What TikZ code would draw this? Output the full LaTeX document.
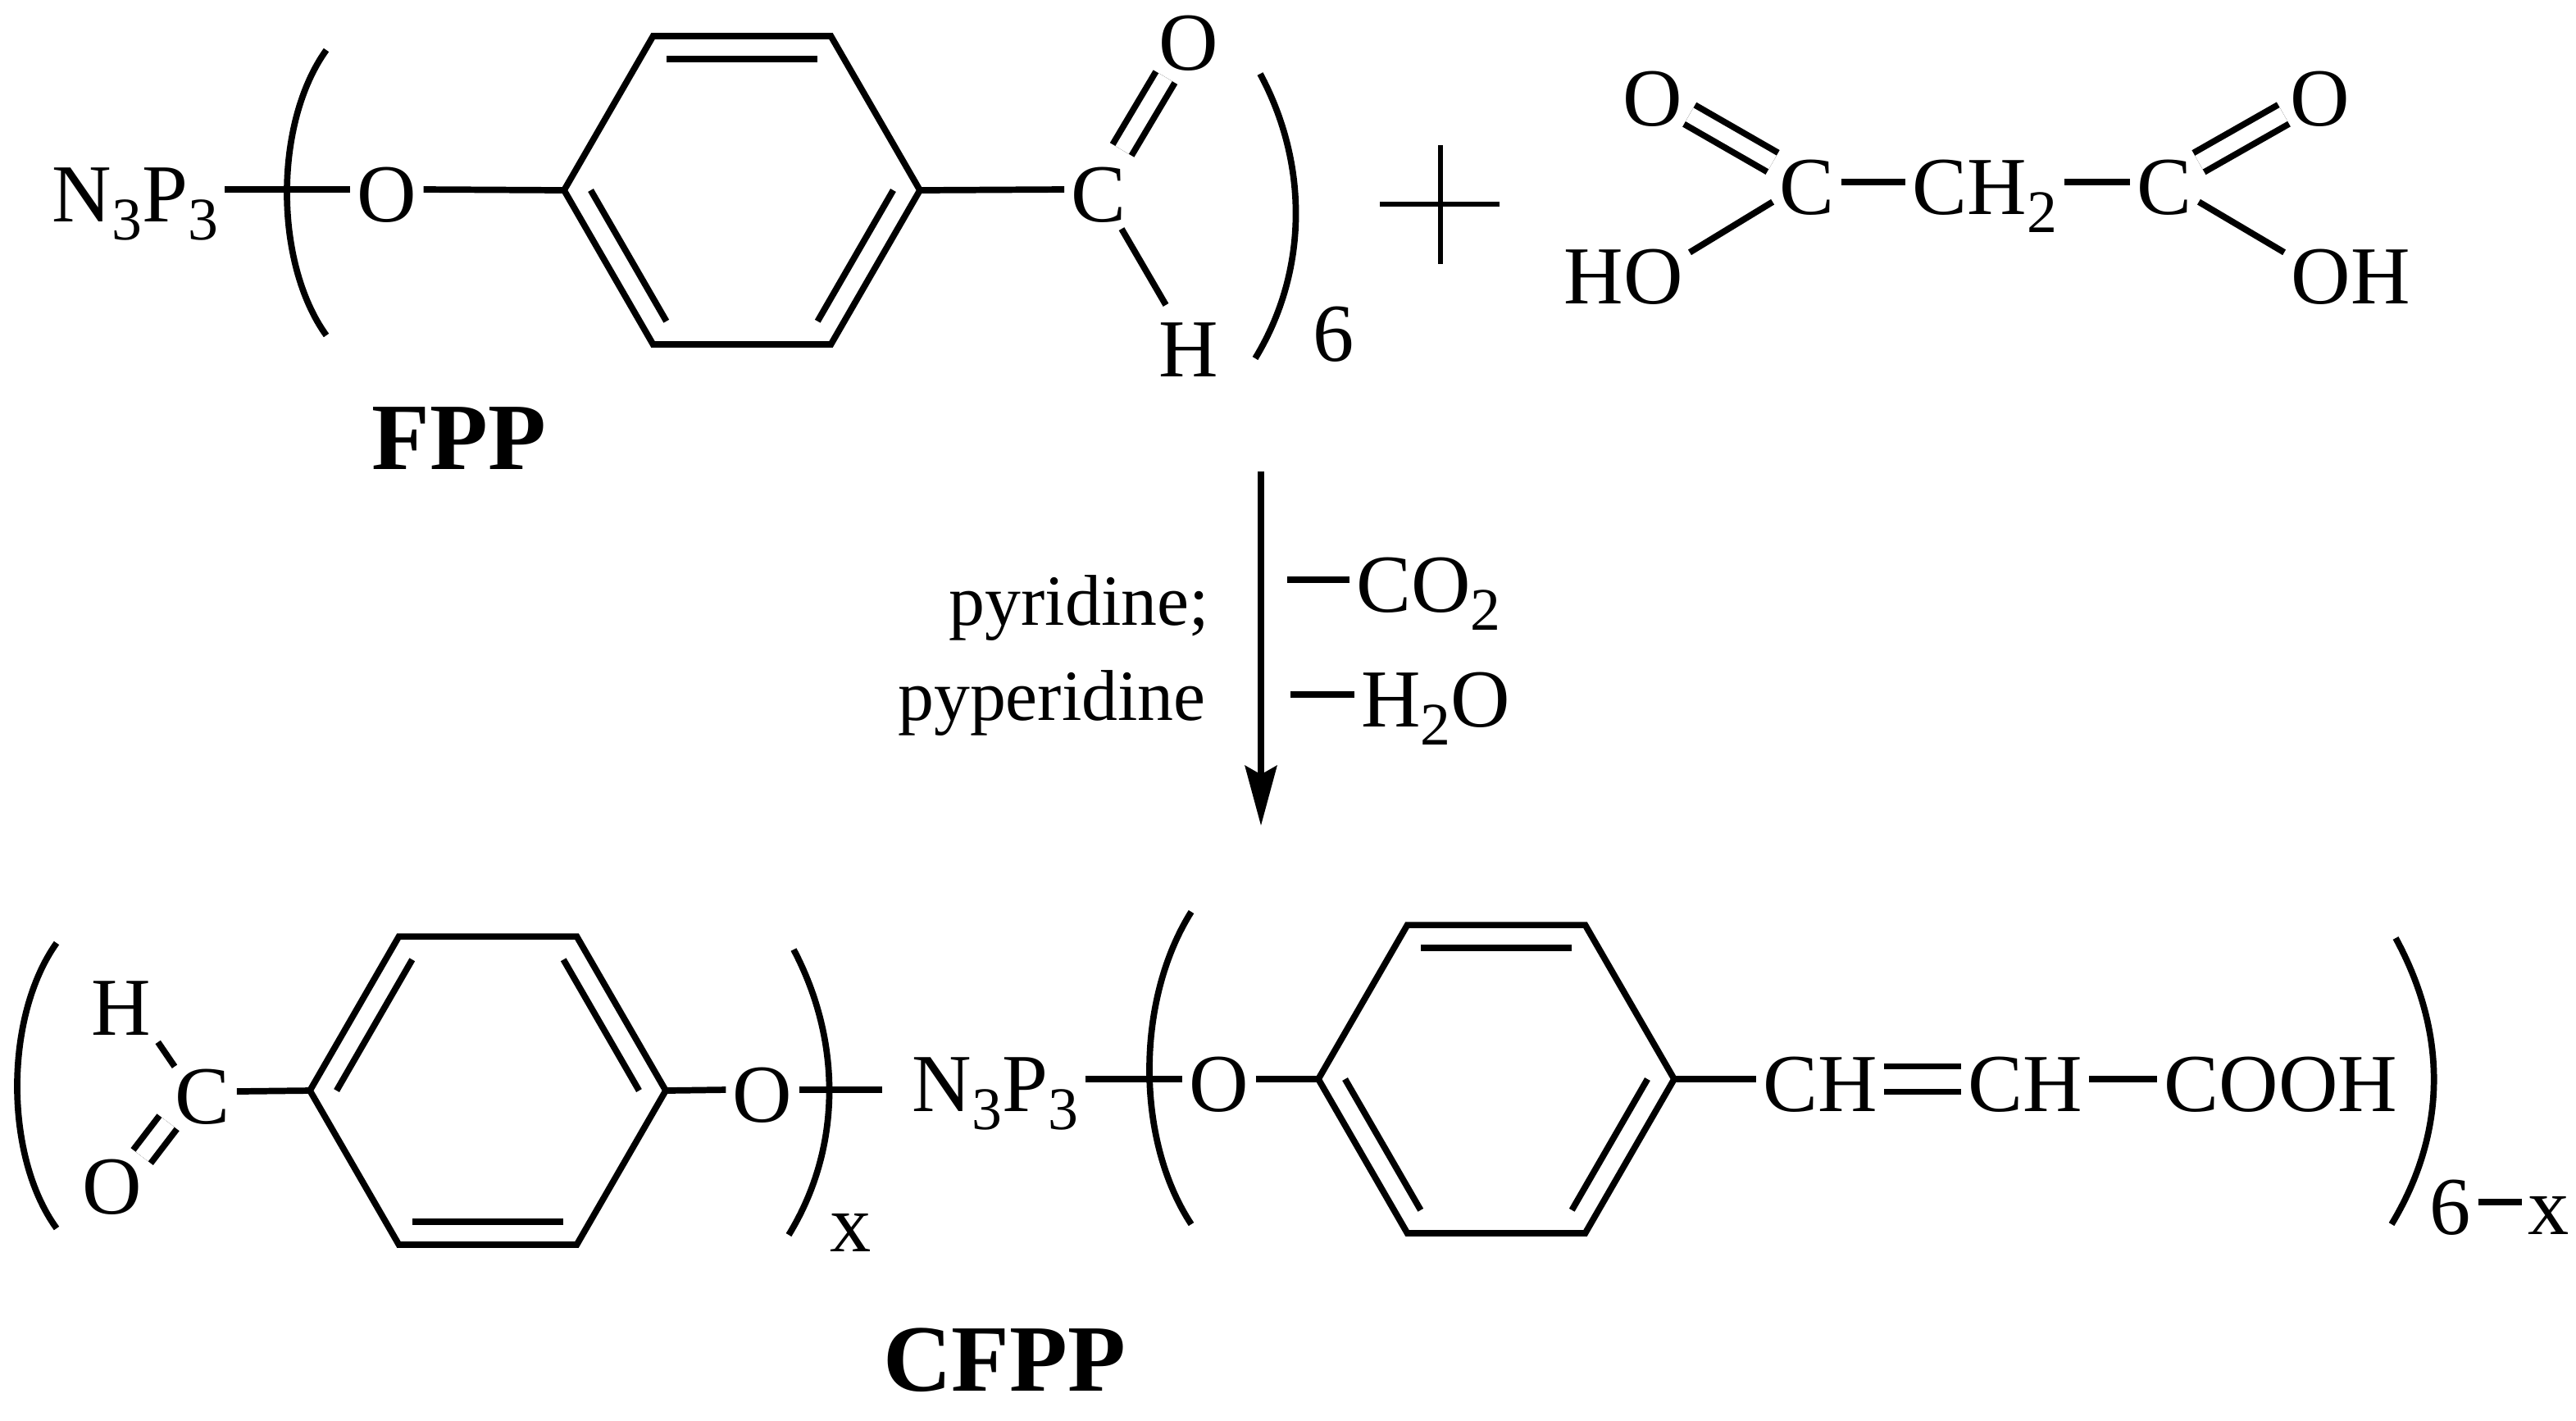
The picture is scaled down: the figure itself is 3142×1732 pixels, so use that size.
\documentclass[tikz,border=0pt]{standalone}
\usepackage{fontspec}
\setmainfont{Liberation Serif}
\usetikzlibrary{calc,arrows.meta}
\newcommand{\chemsub}[1]{\raisebox{-3.1pt}{\fontsize{10.5}{10.5}\selectfont #1}}
\newcommand{\benzring}[4]{%
  \coordinate (#1) at (#2,#3);
  \foreach \a [count=\i] in {0,60,...,300} {
    \coordinate (#1-\i) at ($(#1)+(\a:217)$);
    \coordinate (#1-in\i) at ($(#1)!.85!(#1-\i)$);
  }
  \draw[bond] (#1-1) -- (#1-2) -- (#1-3) -- (#1-4) -- (#1-5) -- (#1-6) -- cycle;
  \foreach \i/\j in {#4} {
    \draw[bond] (#1-in\i) -- (#1-in\j);
  }
}
\tikzset{
  bond/.style={line width=1.1pt, line join=miter},
  dbond/.style={line width=1.1pt, double, double distance=2.7pt},
  atom/.style={font=\fontsize{14.3}{14.3}\selectfont, inner sep=1pt, text height=11.3pt, text depth=0pt},
  label/.style={font=\fontsize{12.5}{12.5}\selectfont, inner sep=0pt},
  title/.style={font=\fontsize{16.5}{16.5}\selectfont\bfseries, inner sep=0pt}
}
\begin{document}
\begin{tikzpicture}[x=.005cm, y=-.005cm]
  \useasboundingbox (0,0) rectangle (3142,1732);

  % FPP
  \benzring{ringa}{905}{232}{5/6,3/4,1/2}
  \node[atom] (na) at (165,231) {N\chemsub{3}P\chemsub{3}};
  \node[atom] (oa) at (472,231) {O};
  \node[atom] (ca) at (1340,231) {C};
  \node[atom] (oatop) at (1450,46) {O};
  \node[atom] (ha) at (1450,420) {H};
  \draw[bond] (na.east) -- (oa.west);
  \draw[bond] (oa.east) -- (ringa-4);
  \draw[bond] (ringa-1) -- (ca.west);
  \draw[dbond] (ca) -- (oatop);
  \draw[bond] (ca) -- (ha);
  \draw[bond] (398,61) .. controls (334,150) and (334,320) .. (398,409);
  \draw[bond] (1537,90) .. controls (1596,200) and (1596,330) .. (1531,437);
  \node[atom] (six) at (1627,401) {6};
  \node[title] (fpp) at (560,535) {FPP};

  % plus
  \coordinate (plusl) at (1683,249);
  \coordinate (plusr) at (1829,249);
  \coordinate (plust) at (1757,177);
  \coordinate (plusb) at (1757,322);
  \draw[bond, line width=.95pt] (plusl) -- (plusr);
  \draw[bond, line width=.95pt] (plust) -- (plusb);

  % malonic acid
  \node[atom] (cb) at (2204,222) {C};
  \node[atom] (chb) at (2421,222) {CH\chemsub{2}};
  \node[atom] (cc) at (2640,222) {C};
  \node[atom] (ob) at (2016,114) {O};
  \node[atom] (oc) at (2830,114) {O};
  \node[atom] (hob) at (1980,331) {HO};
  \node[atom] (ohc) at (2867,331) {OH};
  \draw[bond] (cb) -- (chb);
  \draw[bond] (chb) -- (cc);
  \draw[dbond] (cb) -- (ob);
  \draw[dbond] (cc) -- (oc);
  \draw[bond] (cb.210) -- (hob.16);
  \draw[bond] (cc.-30) -- (ohc.164);

  % reaction arrow
  \coordinate (arrt) at (1538,575);
  \coordinate (arrb) at (1538,1007);
  \draw[bond, -{Stealth[length=10.4pt, width=5.5pt, inset=1.5pt]}] (arrt) -- (arrb);
  \node[label, anchor=base east] (pyr) at (1476,762) {pyridine;};
  \node[label, anchor=base east] (pyp) at (1472,878) {pyperidine};
  \node[atom, anchor=west] (co) at (1646,707) {CO\chemsub{2}};
  \node[atom, anchor=west] (hho) at (1652,847) {H\chemsub{2}O};
  \coordinate (coend) at (1570,707);
  \coordinate (hoend) at (1574,847);
  \draw[bond] (coend) -- (co.west);
  \draw[bond] (hoend) -- (hho.west);

  % CFPP
  \benzring{ringb}{595}{1330}{2/3,4/5,6/1}
  \benzring{ringc}{1825}{1316}{5/6,3/4,1/2}
  \node[atom] (hd) at (148,1223) {H};
  \node[atom] (cd) at (247,1331) {C};
  \node[atom] (od) at (137,1441) {O};
  \node[atom] (oe) at (930,1329) {O};
  \node[atom] (ne) at (1214,1316) {N\chemsub{3}P\chemsub{3}};
  \node[atom] (of) at (1487,1316) {O};
  \node[atom] (cha) at (2220,1316) {CH};
  \node[atom] (chc) at (2470,1316) {CH};
  \node[atom] (cooh) at (2782,1316) {COOH};
  \draw[bond, shorten >=-2pt] (hd.-47) -- (cd.135);
  \draw[dbond, shorten >=-2pt] (cd.222) -- (od.43);
  \draw[bond] (cd.east) -- (ringb-4);
  \draw[bond] (ringb-1) -- (oe.west);
  \draw[bond, shorten >=4pt] (oe.east) -- (ne.west |- oe);
  \draw[bond] (ne.east) -- (of.west);
  \draw[bond] (of.east) -- (ringc-4);
  \draw[bond] (ringc-1) -- (cha.west);
  \draw[dbond, double distance=3.3pt] (cha.east) -- (chc.west);
  \draw[bond] (chc.east) -- (cooh.west);
  \draw[bond] (69,1150) .. controls (5,1240) and (5,1410) .. (69,1498);
  \draw[bond] (968,1158) .. controls (1027,1270) and (1027,1400) .. (962,1506);
  \draw[bond] (1453,1112) .. controls (1385,1220) and (1385,1390) .. (1453,1493);
  \draw[bond] (2922,1144) .. controls (2985,1260) and (2985,1380) .. (2917,1493);
  \node[atom] (xa) at (1038,1487) {x};
  \node[atom] (sixb) at (2989,1466) {6};
  \node[atom] (xb) at (3109,1466) {x};
  \draw[bond] (sixb.east) -- (xb.west);
  \node[title] (cfpp) at (1225,1659) {CFPP};
\end{tikzpicture}
\end{document}
